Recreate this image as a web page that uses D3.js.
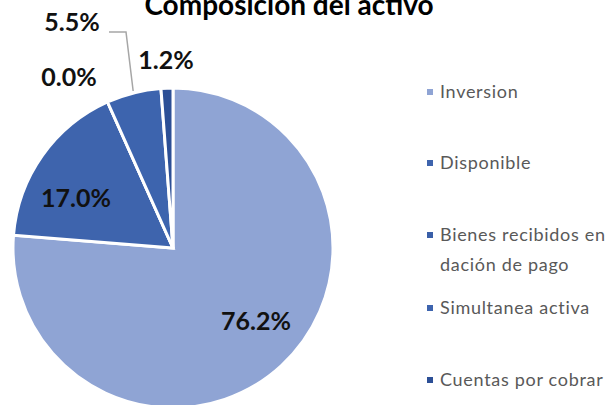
<!DOCTYPE html>
<html>
<head>
<meta charset="utf-8">
<script src="https://cdn.jsdelivr.net/npm/d3@7"></script>
<style>
  body { margin: 0; background: #fff; }
  text { font-family: Lato, "Open Sans", sans-serif; }
</style>
</head>
<body>
<div id="chart"></div>
<script>
var categories = ["Inversion", "Disponible", "Bienes recibidos en dación de pago", "Simultanea activa", "Cuentas por cobrar"];
var values = [76.2, 17.0, 0.0, 5.5, 1.2];
var labelText = ["76.2%", "17.0%", "0.0%", "5.5%", "1.2%"];
var colors = ["#8fa4d4", "#3e64ad", "#3a5fa8", "#3d64ae", "#2c4f96"];

var width = 616, height = 405;
var cx = 173, cy = 248, radius = 160;

var svg = d3.select("#chart").append("svg")
    .attr("width", width)
    .attr("height", height);

// title (cut off at the top like the original)
svg.append("text")
    .attr("x", 289)
    .attr("y", 15)
    .attr("text-anchor", "middle")
    .style("font-size", "28px")
    .style("font-weight", "bold")
    .attr("fill", "#000")
    .text("Composición del activo");

var pie = d3.pie().sort(null).value(function(d) { return d; });
var arcs = pie(values);
var arc = d3.arc().innerRadius(0).outerRadius(radius);

var g = svg.append("g")
    .attr("transform", "translate(" + cx + "," + cy + ")");

g.selectAll("path")
    .data(arcs)
    .enter().append("path")
    .attr("d", arc)
    .attr("fill", function(d, i) { return colors[i]; })
    .attr("stroke", "#fff")
    .attr("stroke-width", 3)
    .attr("stroke-linejoin", "miter");

// label spots, relative to pie centre
var labelPos = [[83, 73], [-97, -50], [-104, -171], [-101, -226], [-7, -188]];

g.selectAll(".lbl")
    .data(arcs)
    .enter().append("text")
    .attr("class", "lbl")
    .attr("x", function(d, i) { return labelPos[i][0]; })
    .attr("y", function(d, i) { return labelPos[i][1]; })
    .attr("text-anchor", "middle")
    .attr("dy", "0.35em")
    .style("font-size", "25px")
    .style("font-weight", "bold")
    .attr("fill", "#111")
    .text(function(d, i) { return labelText[i]; });

// leader line for the 5.5% slice
var a55 = (arcs[3].startAngle + arcs[3].endAngle) / 2;
var ex = Math.sin(a55) * (radius + 2), ey = -Math.cos(a55) * (radius + 2);
g.append("polyline")
    .attr("points", [[-64, -216], [-47, -216], [ex, ey]].map(function(p) { return p.join(","); }).join(" "))
    .attr("fill", "none")
    .attr("stroke", "#a6a6a6")
    .attr("stroke-width", 1.5);

// legend
var legendY = [92, 163, 235, 308, 380];
var leg = svg.append("g");
var items = leg.selectAll("g")
    .data(categories)
    .enter().append("g")
    .attr("transform", function(d, i) { return "translate(427," + legendY[i] + ")"; });

items.append("rect")
    .attr("x", 0)
    .attr("y", -3)
    .attr("width", 6)
    .attr("height", 6)
    .attr("fill", function(d, i) { return colors[i]; });

items.append("text")
    .attr("x", 13)
    .attr("y", 0)
    .attr("dy", "0.35em")
    .style("font-size", "18px")
    .style("letter-spacing", "0.7px")
    .attr("fill", "#595959")
    .each(function(d, i) {
        var t = d3.select(this);
        if (i === 2) {
            t.append("tspan").attr("x", 13).text("Bienes recibidos en");
            t.append("tspan").attr("x", 13).attr("dy", "1.65em").text("dación de pago");
        } else {
            t.text(d);
        }
    });
</script>
</body>
</html>
